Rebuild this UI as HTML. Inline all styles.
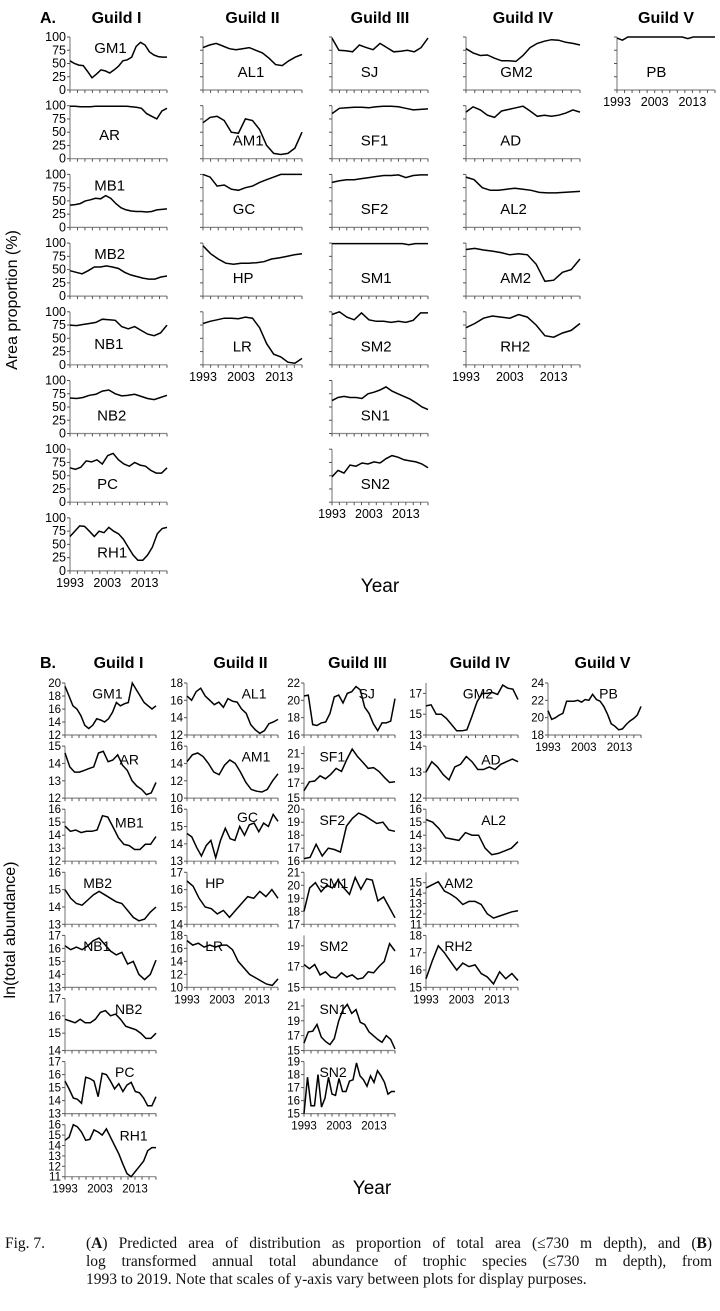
<!DOCTYPE html>
<html><head><meta charset="utf-8"><style>
body{margin:0;background:#fff;width:720px;height:1311px;overflow:hidden}
svg{display:block}
.cap{position:absolute;font-family:"Liberation Serif",serif;font-size:15.5px;color:#111;white-space:nowrap}
.j{text-align:justify;text-align-last:justify;width:626px;left:86px}
</style></head><body>
<svg id="s" width="720" height="1311" xmlns="http://www.w3.org/2000/svg" font-family="Liberation Sans, sans-serif"></svg>
<div class="cap" style="left:5px;top:1235px">Fig. 7.</div>
<div class="cap j" style="top:1235px">(<b>A</b>) Predicted area of distribution as proportion of total area (≤730 m depth), and (<b>B</b>)</div>
<div class="cap j" style="top:1253px">log transformed annual total abundance of trophic species (≤730 m depth), from</div>
<div class="cap" style="left:86px;top:1271px">1993 to 2019. Note that scales of y-axis vary between plots for display purposes.</div>
<script>
var S=document.getElementById('s'),h='';
function T(x,y,t,sz,extra){h+='<text x="'+x+'" y="'+y+'" font-size="'+sz+'" '+(extra||'')+'>'+t+'</text>';}
function panel(x0,x1,yb,H,mn,mx,data,lab,lx,ly,ticks,yl,xl,fs){
 var yt=yb-H,ax='#888';
 h+='<line x1="'+x0+'" y1="'+yt+'" x2="'+x0+'" y2="'+yb+'" stroke="'+ax+'" stroke-width="1.2"/>';
 h+='<line x1="'+x0+'" y1="'+yb+'" x2="'+x1+'" y2="'+yb+'" stroke="'+ax+'" stroke-width="1.2"/>';
 for(var i=0;i<=13;i++){var x=x0+(x1-x0)*i/13;h+='<line x1="'+x+'" y1="'+yb+'" x2="'+x+'" y2="'+(yb+3)+'" stroke="#555"/>';}
 ticks.forEach(function(v){var y=yb-(v-mn)/(mx-mn)*H;h+='<line x1="'+(x0-3)+'" y1="'+y+'" x2="'+x0+'" y2="'+y+'" stroke="#555"/>';
   if(yl)T(x0-4,y+4,v,fs,'text-anchor="end"');});
 var p=data.map(function(v,i){return (x0+(x1-x0)*i/(data.length-1)).toFixed(1)+','+(yb-(v-mn)/(mx-mn)*H).toFixed(1);}).join(' ');
 h+='<polyline points="'+p+'" fill="none" stroke="#000" stroke-width="1.5"/>';
 T(x0+(x1-x0)*lx,yt+H*ly,lab,fs+2.5,'');
 if(xl){T(x0,yb+16,'1993',fs,'text-anchor="middle"');T(x0+(x1-x0)*10/26,yb+16,'2003',fs,'text-anchor="middle"');T(x0+(x1-x0)*20/26,yb+16,'2013',fs,'text-anchor="middle"');}
}
var A=[[70,167],[203,302],[332,428],[466,580],[617,715]];
var At=[0,25,50,75,100];
var AD=[
[["GM1",.25,.3,[55,50,47,46,35,23,30,38,36,32,38,45,55,57,62,82,90,85,72,66,63,62,62]],
 ["AR",.3,.65,[99,99,98,98,98,99,99,99,99,99,99,99,98,97,95,85,80,75,90,95]],
 ["MB1",.25,.3,[42,43,45,50,52,55,54,60,55,45,37,33,31,30,30,29,30,33,34,35]],
 ["MB2",.25,.3,[48,45,42,48,55,55,57,55,52,45,40,37,34,32,32,36,38]],
 ["NB1",.25,.7,[75,74,76,78,80,86,85,84,72,68,72,65,58,55,60,75]],
 ["NB2",.28,.75,[67,66,68,72,74,80,82,75,71,72,74,70,66,64,68,72]],
 ["PC",.28,.75,[65,62,66,78,76,80,72,88,92,80,72,68,75,70,68,60,55,55,65]],
 ["RH1",.28,.75,[65,75,85,84,75,65,75,72,82,75,70,60,45,30,20,20,30,45,70,80,82]]],
[["AL1",.35,.75,[80,85,88,83,78,76,78,80,75,70,60,48,46,55,62,67]],
 ["AM1",.3,.75,[68,78,80,72,50,48,75,72,55,25,10,8,10,20,50]],
 ["GC",.3,.75,[100,95,78,80,72,70,75,78,85,90,95,100,100,100,100]],
 ["HP",.3,.75,[95,80,70,62,60,62,62,63,65,70,72,75,78,80]],
 ["LR",.3,.75,[78,82,85,88,88,87,90,88,70,40,20,15,5,3,12]]],
[["SJ",.3,.75,[98,75,74,72,85,80,76,88,80,72,73,75,72,80,98]],
 ["SF1",.3,.75,[85,95,96,97,97,96,98,99,99,98,95,92,93,94]],
 ["SF2",.3,.75,[85,88,90,90,92,94,96,98,98,99,94,98,99,99]],
 ["SM1",.3,.75,[99,99,99,99,99,99,99,99,99,99,99,99,97,99,99,99]],
 ["SM2",.3,.75,[95,100,90,85,98,85,82,82,80,82,80,84,98,98]],
 ["SN1",.3,.75,[62,68,70,68,68,66,75,78,82,88,80,75,70,65,58,50,45]],
 ["SN2",.3,.75,[48,60,55,70,68,74,72,76,74,82,88,85,80,78,76,72,65]]],
[["GM2",.3,.75,[78,70,65,66,60,55,55,54,65,80,88,92,95,94,90,88,85]],
 ["AD",.3,.75,[88,98,92,82,78,90,93,96,99,90,80,82,80,82,86,92,88]],
 ["AL2",.3,.75,[95,90,75,70,70,72,74,72,70,66,65,65,66,67,68]],
 ["AM2",.3,.75,[88,90,87,85,82,78,80,78,60,28,30,45,50,70]],
 ["RH2",.3,.75,[70,78,88,92,90,88,95,90,75,55,52,60,65,78]]],
[["PB",.3,.75,[98,94,100,100,100,100,100,100,100,100,100,100,100,97,100,100,100,100,100]]]];
AD.forEach(function(g,gi){g.forEach(function(p,r){var yb=90+r*68.7;
 panel(A[gi][0],A[gi][1],yb,53,0,100,p[3],p[0],p[1],p[2],At,gi==0,r==g.length-1,12.5);});});
["Guild I","Guild II","Guild III","Guild IV","Guild V"].forEach(function(t,i){T((A[i][0]+A[i][1])/2+(i==0?-2:0),23,t,16,'font-weight="bold" text-anchor="middle"');});
T(40,23,'A.',16,'font-weight="bold"');
T(380,592,'Year',19,'text-anchor="middle"');
h+='<text transform="translate(17,300) rotate(-90)" font-size="16" text-anchor="middle">Area proportion (%)</text>';
var B=[[65,156],[187,278],[304,395],[426,518],[548,641]];
var BD=[
[["GM1",.3,.3,12,20,[12,14,16,18,20],[19.5,18,16.5,16,15,13.5,13,13.5,14.5,14.3,14,14.5,15.5,17,16.5,16.8,17,20,19,18,17,16.5,16,16.5]],
 ["AR",.6,.35,12,15,[12,13,14,15],[14.6,13.8,13.5,13.5,13.6,13.7,13.8,14.6,14.7,14.1,14.2,14.5,13.9,13.6,13,12.7,12.5,12.2,12.3,12.9]],
 ["MB1",.55,.35,12,16,[12,13,14,15,16],[14.7,14.3,14.4,14.2,14.3,14.3,14.4,15.5,15.4,14.6,13.8,13.3,13.2,12.9,12.9,13.3,13.3,13.9]],
 ["MB2",.2,.3,13,16,[13,14,15,16],[15,14.5,14.2,14.1,14.4,14.7,14.9,14.7,14.5,14.3,14.2,13.8,13.4,13.2,13.3,13.7,14]],
 ["NB1",.2,.3,13,17,[13,14,15,16,17],[16.2,15.9,16.1,15.9,16.2,16.6,16.8,16.3,15.8,15.5,15.7,14.8,15.0,14,13.6,14,15.1]],
 ["NB2",.55,.3,14,17,[14,15,16,17],[15.8,15.7,15.6,15.8,15.6,15.6,15.8,16.2,16.3,16.0,16.1,15.8,15.4,15.3,15.2,15.0,14.7,14.7,15.0]],
 ["PC",.55,.3,13,17,[13,14,15,16,17],[15.5,14.9,14.2,14.1,13.8,15.8,15.7,15.5,14.3,16.1,16,15.5,14.9,15.3,14.7,15.2,15.4,14.7,14.6,14.2,13.6,13.6,14.3]],
 ["RH1",.6,.3,11,16,[11,12,13,14,15,16],[14.5,14.8,16,15.8,15.3,14.5,14.6,15.5,15.3,15,15.6,14.8,14,13.2,12.2,11.3,11,11.5,12,12.5,13.5,13.8,13.8]]],
[["AL1",.6,.3,12,18,[12,14,16,18],[16.5,16,17,17.4,16.5,16,15.5,15.8,15.2,16.2,15.9,15.8,15,14.5,13.2,12.6,12.2,12.5,13.3,13.5,13.8]],
 ["AM1",.6,.3,10,16,[10,12,14,16],[14.2,15,15.2,14.8,14,13,12.7,13.8,14.4,14,13,11.8,11,10.8,10.7,11,12,12.8]],
 ["GC",.55,.25,13,16,[13,14,15,16],[14.6,14.4,13.8,13.3,13.9,14.2,13.2,14.2,14.9,14.3,14.2,15,14.5,15.1,15.2,14.7,15.2,15,15.7,15.3]],
 ["HP",.2,.3,14,17,[14,15,16,17],[16.5,16.2,15.5,15,14.9,14.6,14.8,14.4,14.8,15.2,15.6,15.5,15.9,15.6,16,15.5]],
 ["LR",.2,.3,10,18,[10,12,14,16,18],[17.2,16.5,16.8,16.2,16.5,16.2,16.5,16.5,15.8,14,13,12,11.5,11,10.5,10.3,11.3]]],
[["SJ",.6,.3,16,22,[16,18,20,22],[20.5,20.6,17.2,17.1,17.4,17.5,18.5,20.4,20.6,19.7,20.8,21.0,21.6,21.2,19.2,18.5,17.3,16.5,17.4,17.4,17.6,20.2]],
 ["SF1",.17,.3,15,22,[15,17,19,21],[16,17.2,17.3,18.0,17.6,18.2,19,18.6,20.2,21.6,20.6,19.8,19.0,19.1,18.6,17.8,17.1,17.2]],
 ["SF2",.17,.3,16,20,[16,17,18,19,20],[16.2,16.3,17.3,16.4,17.0,16.9,16.7,18.7,19.3,19.7,19.5,19.2,18.9,19.0,18.4,18.3]],
 ["SM1",.17,.3,17,21,[17,18,19,20,21],[18,19.8,20.2,19.5,20.0,19.8,20.4,19.8,19.3,20.6,19.7,20.5,20.4,18.8,19.1,18.3,17.5]],
 ["SM2",.17,.3,15,20,[15,17,19],[17.2,16.8,17.2,16.2,16.5,16.0,15.9,16.4,16.0,16.2,15.8,15.9,16.5,16.4,17,17.5,19.2,18.5]],
 ["SN1",.17,.3,15,22,[15,17,19,21],[16,17.5,17.6,18.5,16.8,16.2,15.8,16.6,19,20.5,21.2,20,20.5,18.8,18.5,17.5,17,16.5,16.1,17,16.5,15.2]],
 ["SN2",.17,.3,15,19,[15,16,17,18,19],[15,17.8,15.6,15.6,18,15.5,16.2,17.8,16.5,16.4,17.7,16.7,16.7,17.5,17.6,18.9,17.9,17.6,17.1,17.9,17.4,18.3,17.9,17.4,16.5,16.7,16.7]]],
[["GM2",.4,.3,13,18,[13,15,17],[15.8,15.9,15,15,14.6,14,13.4,13.4,13.5,14.8,16.2,17,17,17.1,16.9,17.8,17.5,17.4,16.4]],
 ["AD",.6,.35,12,14,[12,13,14],[13.0,13.4,13.2,12.9,12.7,13.2,13.3,13.6,13.4,13.1,13.1,13.2,13.1,13.3,13.4,13.5,13.4]],
 ["AL2",.6,.3,12,16,[12,13,14,15,16],[15.2,15.0,14.5,13.8,13.7,13.6,14.2,14.0,14.0,13.0,12.5,12.6,12.8,13.0,13.5]],
 ["AM2",.2,.3,11,16,[11,12,13,14,15],[14.5,14.8,15.1,14.2,13.9,13.5,12.9,13.2,13.2,12.9,12.0,11.6,11.8,12.0,12.2,12.3]],
 ["RH2",.2,.3,15,18,[15,16,17,18],[15.5,16.5,17.4,17.0,16.5,16,16.4,16.2,16.3,15.8,15.6,15.2,15.9,15.5,15.8,15.4]]],
[["PB",.55,.3,18,24,[18,20,22,24],[20.8,19.8,20,20.3,20.5,21.9,21.9,21.9,22,21.8,22.1,22.0,22.7,22.1,21.9,21.3,20.4,19.3,19.0,18.6,18.7,19.2,19.6,19.9,20.3,21.3]]]];
BD.forEach(function(g,gi){g.forEach(function(p,r){var yb=735+r*63.1;
 panel(B[gi][0],B[gi][1],yb,52,p[3],p[4],p[6],p[0],p[1],p[2],p[5],true,r==g.length-1,11.5);});});
["Guild I","Guild II","Guild III","Guild IV","Guild V"].forEach(function(t,i){T((B[i][0]+B[i][1])/2+8,668,t,16,'font-weight="bold" text-anchor="middle"');});
T(40,668,'B.',16,'font-weight="bold"');
T(372,1194,'Year',19,'text-anchor="middle"');
h+='<text transform="translate(15,930) rotate(-90)" font-size="16" text-anchor="middle">ln(total abundance)</text>';
S.innerHTML=h;
</script>
</body></html>
